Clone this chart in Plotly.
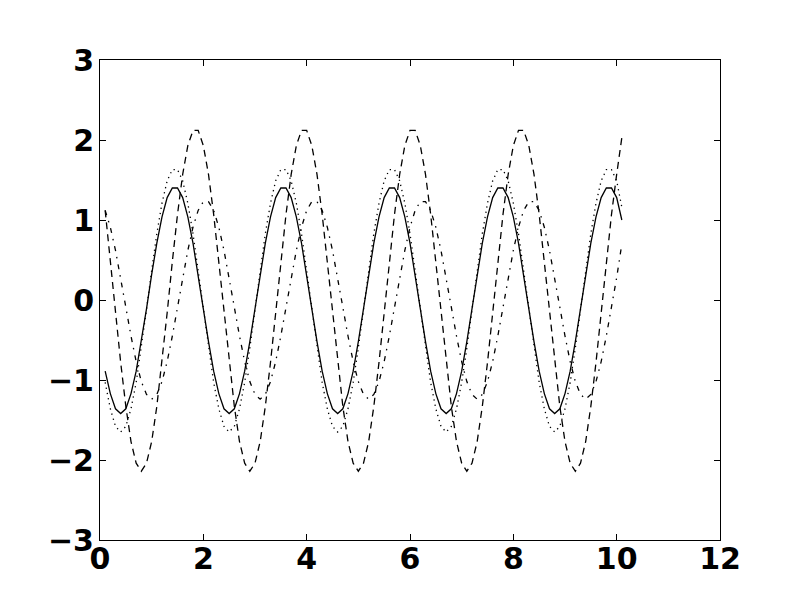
import plotly.graph_objects as go

# sample positions along x
x_vals = [
    0.1, 0.2, 0.3, 0.4, 0.5, 0.6, 0.7, 0.8, 0.9, 1.0,
    1.1, 1.2, 1.3, 1.4, 1.5, 1.6, 1.7, 1.8, 1.9, 2.0,
    2.1, 2.2, 2.3, 2.4, 2.5, 2.6, 2.7, 2.8, 2.9, 3.0,
    3.1, 3.2, 3.3, 3.4, 3.5, 3.6, 3.7, 3.8, 3.9, 4.0,
    4.1, 4.2, 4.3, 4.4, 4.5, 4.6, 4.7, 4.8, 4.9, 5.0,
    5.1, 5.2, 5.3, 5.4, 5.5, 5.6, 5.7, 5.8, 5.9, 6.0,
    6.1, 6.2, 6.3, 6.4, 6.5, 6.6, 6.7, 6.8, 6.9, 7.0,
    7.1, 7.2, 7.3, 7.4, 7.5, 7.6, 7.7, 7.8, 7.9, 8.0,
    8.1, 8.2, 8.3, 8.4, 8.5, 8.6, 8.7, 8.8, 8.9, 9.0,
    9.1, 9.2, 9.3, 9.4, 9.5, 9.6, 9.7, 9.8, 9.9, 10.0,
    10.1,
]

solid_vals = [
    -0.89, -1.17, -1.36, -1.42, -1.36, -1.17, -0.89, -0.52, -0.11, 0.32,
    0.71, 1.04, 1.28, 1.40, 1.40, 1.28, 1.04, 0.71, 0.32, -0.11,
    -0.52, -0.89, -1.17, -1.36, -1.42, -1.36, -1.17, -0.89, -0.52, -0.11,
    0.32, 0.71, 1.04, 1.28, 1.40, 1.40, 1.28, 1.04, 0.71, 0.32,
    -0.11, -0.52, -0.89, -1.17, -1.36, -1.42, -1.36, -1.17, -0.89, -0.52,
    -0.11, 0.32, 0.71, 1.04, 1.28, 1.40, 1.40, 1.28, 1.04, 0.71,
    0.32, -0.11, -0.52, -0.89, -1.17, -1.36, -1.42, -1.36, -1.17, -0.89,
    -0.52, -0.11, 0.32, 0.71, 1.04, 1.28, 1.40, 1.40, 1.28, 1.04,
    0.71, 0.32, -0.11, -0.52, -0.89, -1.17, -1.36, -1.42, -1.36, -1.17,
    -0.89, -0.52, -0.11, 0.32, 0.71, 1.04, 1.28, 1.40, 1.40, 1.28,
    1.00,
]

dotted_vals = [
    -1.03, -1.36, -1.58, -1.65, -1.58, -1.36, -1.03, -0.60, -0.12, 0.37,
    0.83, 1.21, 1.49, 1.63, 1.63, 1.49, 1.21, 0.83, 0.37, -0.12,
    -0.60, -1.03, -1.36, -1.58, -1.65, -1.58, -1.36, -1.03, -0.60, -0.12,
    0.37, 0.83, 1.21, 1.49, 1.63, 1.63, 1.49, 1.21, 0.83, 0.37,
    -0.12, -0.60, -1.03, -1.36, -1.58, -1.65, -1.58, -1.36, -1.03, -0.60,
    -0.12, 0.37, 0.83, 1.21, 1.49, 1.63, 1.63, 1.49, 1.21, 0.83,
    0.37, -0.12, -0.60, -1.03, -1.36, -1.58, -1.65, -1.58, -1.36, -1.03,
    -0.60, -0.12, 0.37, 0.83, 1.21, 1.49, 1.63, 1.63, 1.49, 1.21,
    0.83, 0.37, -0.12, -0.60, -1.03, -1.36, -1.58, -1.65, -1.58, -1.36,
    -1.03, -0.60, -0.12, 0.37, 0.83, 1.21, 1.49, 1.63, 1.63, 1.49,
    1.16,
]

dashed_vals = [
    1.12, 0.48, -0.16, -0.78, -1.33, -1.77, -2.04, -2.14, -2.04, -1.77,
    -1.33, -0.78, -0.16, 0.48, 1.07, 1.57, 1.93, 2.12, 2.12, 1.93,
    1.57, 1.07, 0.48, -0.16, -0.78, -1.33, -1.77, -2.04, -2.14, -2.04,
    -1.77, -1.33, -0.78, -0.16, 0.48, 1.07, 1.57, 1.93, 2.12, 2.12,
    1.93, 1.57, 1.07, 0.48, -0.16, -0.78, -1.33, -1.77, -2.04, -2.14,
    -2.04, -1.77, -1.33, -0.78, -0.16, 0.48, 1.07, 1.57, 1.93, 2.12,
    2.12, 1.93, 1.57, 1.07, 0.48, -0.16, -0.78, -1.33, -1.77, -2.04,
    -2.14, -2.04, -1.77, -1.33, -0.78, -0.16, 0.48, 1.07, 1.57, 1.93,
    2.12, 2.12, 1.93, 1.57, 1.07, 0.48, -0.16, -0.78, -1.33, -1.77,
    -2.04, -2.14, -2.04, -1.77, -1.33, -0.78, -0.16, 0.48, 1.07, 1.57,
    2.03,
]

dashdot_vals = [
    1.12, 0.91, 0.62, 0.28, -0.09, -0.45, -0.77, -1.02, -1.18, -1.24,
    -1.18, -1.02, -0.77, -0.45, -0.09, 0.28, 0.62, 0.91, 1.12, 1.23,
    1.23, 1.12, 0.91, 0.62, 0.28, -0.09, -0.45, -0.77, -1.02, -1.18,
    -1.24, -1.18, -1.02, -0.77, -0.45, -0.09, 0.28, 0.62, 0.91, 1.12,
    1.23, 1.23, 1.12, 0.91, 0.62, 0.28, -0.09, -0.45, -0.77, -1.02,
    -1.18, -1.24, -1.18, -1.02, -0.77, -0.45, -0.09, 0.28, 0.62, 0.91,
    1.12, 1.23, 1.23, 1.12, 0.91, 0.62, 0.28, -0.09, -0.45, -0.77,
    -1.02, -1.18, -1.24, -1.18, -1.02, -0.77, -0.45, -0.09, 0.28, 0.62,
    0.91, 1.12, 1.23, 1.23, 1.12, 0.91, 0.62, 0.28, -0.09, -0.45,
    -0.77, -1.02, -1.18, -1.24, -1.18, -1.02, -0.77, -0.45, -0.09, 0.28,
    0.70,
]

x_ticks = [0, 2, 4, 6, 8, 10, 12]
y_ticks = [-3, -2, -1, 0, 1, 2, 3]

series = [
    (solid_vals, "solid"),
    (dotted_vals, "1.3px,4px"),
    (dashed_vals, "7px,5px"),
    (dashdot_vals, "5px,6px,1.5px,6px"),
]

fig = go.Figure()
for vals, dash in series:
    fig.add_trace(
        go.Scatter(
            x=x_vals,
            y=vals,
            mode="lines",
            line=dict(color="black", width=1.3, dash=dash),
            showlegend=False,
        )
    )

axis_style = dict(
    showgrid=False,
    zeroline=False,
    showline=True,
    linecolor="black",
    linewidth=1,
    mirror="allticks",
    ticks="inside",
    ticklen=6,
    tickwidth=1,
    tickcolor="black",
    tickfont=dict(family="DejaVu Sans", size=30, color="black", weight="bold"),
)

# page body adds an 8px offset, so margins are trimmed to land the axes at 100..720 / 60..540
fig.update_layout(
    width=800,
    height=600,
    paper_bgcolor="white",
    plot_bgcolor="white",
    margin=dict(l=92, r=88, t=52, b=68),
    xaxis=dict(range=[0, 12], tickvals=x_ticks, ticklabelstandoff=-8, **axis_style),
    yaxis=dict(range=[-3, 3], tickvals=y_ticks, ticklabelstandoff=-1, **axis_style),
)

fig.write_html("out.html")
